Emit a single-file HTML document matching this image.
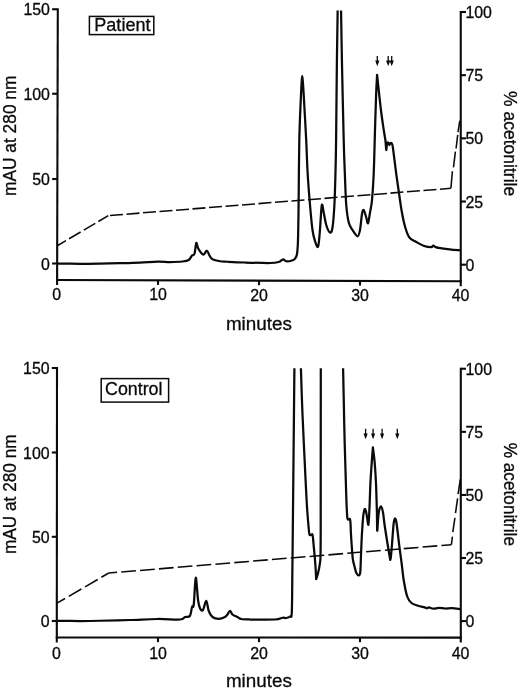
<!DOCTYPE html>
<html><head><meta charset="utf-8"><title>HPLC chromatograms</title>
<style>
html,body{margin:0;padding:0;background:#fff;}
body{width:520px;height:690px;position:relative;overflow:hidden;font-family:"Liberation Sans",Arial,sans-serif;}
</style></head><body>
<svg width="520" height="690" viewBox="0 0 520 690" style="display:block;position:absolute;left:0;top:0;filter:blur(0.3px)">
<rect width="520" height="690" fill="#fff"/>
<g font-family="'Liberation Sans', Arial, sans-serif" fill="#0a0a0a" stroke="#0a0a0a" stroke-width="0.3">
<g stroke="#0a0a0a" stroke-width="2.10" fill="none" stroke-linecap="butt">
<path d="M57.80 8.20 L57.10 285.00"/>
<path d="M460.75 10.95 V286.20"/>
<path d="M56.05 280.00 L461.80 281.30"/>
<path d="M52.10 9.25 H57.10"/>
<path d="M52.10 93.75 H57.10"/>
<path d="M52.10 179.00 H57.10"/>
<path d="M52.10 263.50 H57.10"/>
<path d="M460.75 12.00 H465.95"/>
<path d="M460.75 75.17 H465.95"/>
<path d="M460.75 138.35 H465.95"/>
<path d="M460.75 201.52 H465.95"/>
<path d="M460.75 264.70 H465.95"/>
<path d="M158.00 280.32 V284.92"/>
<path d="M259.00 280.65 V285.25"/>
<path d="M360.00 280.98 V285.58"/>
</g>
<text x="49.90" y="15.30" font-size="15.9" text-anchor="end">150</text>
<text x="49.90" y="99.80" font-size="15.9" text-anchor="end">100</text>
<text x="49.90" y="185.05" font-size="15.9" text-anchor="end">50</text>
<text x="49.90" y="269.55" font-size="15.9" text-anchor="end">0</text>
<text x="465.45" y="18.05" font-size="15.9">100</text>
<text x="465.45" y="81.22" font-size="15.9">75</text>
<text x="465.45" y="144.40" font-size="15.9">50</text>
<text x="465.45" y="207.57" font-size="15.9">25</text>
<text x="465.45" y="270.75" font-size="15.9">0</text>
<text x="56.60" y="300.10" font-size="15.9" text-anchor="middle">0</text>
<text x="158.00" y="300.42" font-size="15.9" text-anchor="middle">10</text>
<text x="259.00" y="300.75" font-size="15.9" text-anchor="middle">20</text>
<text x="360.00" y="301.08" font-size="15.9" text-anchor="middle">30</text>
<text x="460.55" y="301.40" font-size="15.9" text-anchor="middle">40</text>
<text x="258.9" y="329.70" font-size="19.2" text-anchor="middle" textLength="66" lengthAdjust="spacingAndGlyphs">minutes</text>
<text transform="translate(16.10 135.80) rotate(-90)" font-size="18.3" text-anchor="middle" textLength="120.4" lengthAdjust="spacingAndGlyphs">mAU at 280 nm</text>
<text transform="translate(503.90 143.65) rotate(90)" font-size="18.2" text-anchor="middle" textLength="105.1" lengthAdjust="spacingAndGlyphs">% acetonitrile</text>
<rect x="89.40" y="16.40" width="64.40" height="18.20" fill="#fff" stroke="#0a0a0a" stroke-width="1.5"/>
<text x="122.40" y="31.20" font-size="18.4" text-anchor="middle" textLength="56.2" lengthAdjust="spacingAndGlyphs">Patient</text>
<g stroke="#0a0a0a" stroke-width="2.10" fill="none" stroke-linecap="butt">
<path d="M57.00 366.95 L56.80 642.50"/>
<path d="M460.80 367.70 V642.50"/>
<path d="M55.75 637.50 L461.85 637.60"/>
<path d="M51.80 368.00 H56.80"/>
<path d="M51.80 452.50 H56.80"/>
<path d="M51.80 536.80 H56.80"/>
<path d="M51.80 621.00 H56.80"/>
<path d="M460.80 368.75 H466.00"/>
<path d="M460.80 431.84 H466.00"/>
<path d="M460.80 494.93 H466.00"/>
<path d="M460.80 558.01 H466.00"/>
<path d="M460.80 621.10 H466.00"/>
<path d="M158.00 637.53 V642.13"/>
<path d="M259.00 637.55 V642.15"/>
<path d="M360.00 637.58 V642.18"/>
</g>
<text x="49.60" y="374.05" font-size="15.9" text-anchor="end">150</text>
<text x="49.60" y="458.55" font-size="15.9" text-anchor="end">100</text>
<text x="49.60" y="542.85" font-size="15.9" text-anchor="end">50</text>
<text x="49.60" y="627.05" font-size="15.9" text-anchor="end">0</text>
<text x="465.50" y="374.80" font-size="15.9">100</text>
<text x="465.50" y="437.89" font-size="15.9">75</text>
<text x="465.50" y="500.98" font-size="15.9">50</text>
<text x="465.50" y="564.06" font-size="15.9">25</text>
<text x="465.50" y="627.15" font-size="15.9">0</text>
<text x="56.30" y="658.60" font-size="15.9" text-anchor="middle">0</text>
<text x="158.00" y="658.63" font-size="15.9" text-anchor="middle">10</text>
<text x="259.00" y="658.65" font-size="15.9" text-anchor="middle">20</text>
<text x="360.00" y="658.68" font-size="15.9" text-anchor="middle">30</text>
<text x="460.60" y="658.70" font-size="15.9" text-anchor="middle">40</text>
<text x="258.9" y="686.80" font-size="19.2" text-anchor="middle" textLength="66" lengthAdjust="spacingAndGlyphs">minutes</text>
<text transform="translate(15.80 494.20) rotate(-90)" font-size="18.3" text-anchor="middle" textLength="119.6" lengthAdjust="spacingAndGlyphs">mAU at 280 nm</text>
<text transform="translate(503.50 494.35) rotate(90)" font-size="18.2" text-anchor="middle" textLength="103.3" lengthAdjust="spacingAndGlyphs">% acetonitrile</text>
<rect x="101.20" y="378.60" width="67.40" height="23.50" fill="#fff" stroke="#0a0a0a" stroke-width="1.5"/>
<text x="133.75" y="395.00" font-size="18.4" text-anchor="middle" textLength="57.5" lengthAdjust="spacingAndGlyphs">Control</text>
<g stroke="#0a0a0a" fill="none" stroke-linejoin="round" stroke-linecap="butt">
<path stroke-width="2.25" d="M57.50 263.60 C61.25 263.63 72.92 263.80 80.00 263.80 C87.08 263.80 93.33 263.70 100.00 263.60 C106.67 263.50 113.33 263.37 120.00 263.20 C126.67 263.03 133.67 262.87 140.00 262.60 C146.33 262.33 153.00 261.70 158.00 261.60 C163.00 261.50 165.92 262.02 170.00 262.00 C174.08 261.98 179.38 261.83 182.50 261.50 C185.62 261.17 187.17 261.00 188.75 260.00 C190.33 259.00 191.04 256.54 192.00 255.50 C192.96 254.46 193.79 255.83 194.50 253.75 C195.21 251.67 195.67 243.96 196.25 243.00 C196.83 242.04 197.17 246.33 198.00 248.00 C198.83 249.67 200.29 251.92 201.25 253.00 C202.21 254.08 202.79 254.88 203.75 254.50 C204.71 254.12 206.04 250.58 207.00 250.75 C207.96 250.92 208.58 254.08 209.50 255.50 C210.42 256.92 210.75 258.29 212.50 259.25 C214.25 260.21 217.50 260.83 220.00 261.25 C222.50 261.67 223.33 261.54 227.50 261.75 C231.67 261.96 237.92 262.29 245.00 262.50 C252.08 262.71 264.38 263.08 270.00 263.00 C275.62 262.92 276.58 262.62 278.75 262.00 C280.92 261.38 281.75 259.43 283.00 259.30 C284.25 259.18 284.88 261.01 286.25 261.25 C287.62 261.49 289.79 261.17 291.25 260.75 C292.71 260.33 294.04 259.88 295.00 258.75 C295.96 257.62 296.50 257.12 297.00 254.00 C297.50 250.88 297.73 248.17 298.00 240.00 C298.27 231.83 298.38 221.67 298.60 205.00 C298.82 188.33 298.90 158.38 299.30 140.00 C299.70 121.62 300.58 104.75 301.00 94.75 C301.42 84.75 301.60 83.09 301.80 80.00 C302.00 76.91 302.05 76.20 302.20 76.20 C302.35 76.20 302.45 76.91 302.70 80.00 C302.95 83.09 303.12 84.75 303.70 94.75 C304.28 104.75 305.55 127.04 306.20 140.00 C306.85 152.96 306.97 161.67 307.60 172.50 C308.23 183.33 309.18 195.42 310.00 205.00 C310.82 214.58 311.67 224.00 312.50 230.00 C313.33 236.00 314.08 238.21 315.00 241.00 C315.92 243.79 317.20 248.25 318.00 246.75 C318.80 245.25 319.18 238.88 319.80 232.00 C320.43 225.12 321.12 208.83 321.75 205.50 C322.38 202.17 322.85 208.75 323.60 212.00 C324.35 215.25 325.18 221.58 326.25 225.00 C327.32 228.42 328.96 232.08 330.00 232.50 C331.04 232.92 331.77 232.08 332.50 227.50 C333.23 222.92 333.90 214.25 334.40 205.00 C334.90 195.75 335.22 182.83 335.50 172.00 C335.78 161.17 335.87 158.67 336.10 140.00 C336.33 121.33 336.64 81.58 336.90 60.00 C337.16 38.42 337.52 18.75 337.65 10.50"/>
<path stroke-width="2.25" d="M341.05 10.50 C341.19 18.75 341.46 38.42 341.90 60.00 C342.34 81.58 343.22 121.25 343.70 140.00 C344.18 158.75 344.38 161.67 344.80 172.50 C345.23 183.33 345.59 196.67 346.25 205.00 C346.91 213.33 347.71 218.33 348.75 222.50 C349.79 226.67 351.04 227.71 352.50 230.00 C353.96 232.29 356.25 236.25 357.50 236.25 C358.75 236.25 359.25 233.71 360.00 230.00 C360.75 226.29 361.38 217.33 362.00 214.00 C362.62 210.67 363.04 209.42 363.75 210.00 C364.46 210.58 365.54 215.29 366.25 217.50 C366.96 219.71 367.38 224.08 368.00 223.25 C368.62 222.42 369.33 216.38 370.00 212.50 C370.67 208.62 371.38 206.67 372.00 200.00 C372.62 193.33 373.25 184.17 373.75 172.50 C374.25 160.83 374.61 142.92 375.00 130.00 C375.39 117.08 375.75 104.20 376.10 95.00 C376.45 85.80 376.93 78.17 377.10 74.80 C377.33 77.00 377.81 81.72 378.50 88.00 C379.19 94.28 380.38 105.50 381.25 112.50 C382.12 119.50 383.04 125.25 383.75 130.00 C384.46 134.75 385.08 137.67 385.50 141.00 C385.92 144.33 386.00 149.54 386.25 150.00 C386.50 150.46 386.68 145.00 387.00 143.75 C387.32 142.50 387.82 142.29 388.20 142.50 C388.58 142.71 388.92 144.92 389.30 145.00 C389.68 145.08 390.00 143.08 390.50 143.00 C391.00 142.92 391.78 142.83 392.30 144.50 C392.82 146.17 392.93 148.03 393.60 153.00 C394.27 157.97 395.38 167.48 396.30 174.30 C397.22 181.12 398.20 187.73 399.10 193.90 C400.00 200.07 400.72 205.87 401.70 211.30 C402.68 216.73 403.73 222.15 405.00 226.50 C406.27 230.85 407.48 234.87 409.30 237.40 C411.12 239.93 413.53 240.32 415.90 241.70 C418.27 243.08 420.98 244.78 423.50 245.70 C426.02 246.62 429.37 247.20 431.00 247.20 C432.63 247.20 432.55 245.73 433.30 245.70 C434.05 245.67 434.60 246.65 435.50 247.00 C436.40 247.35 436.35 247.42 438.70 247.80 C441.05 248.18 446.05 248.87 449.60 249.30 C453.15 249.73 458.27 250.22 460.00 250.40"/>
<path stroke-width="1.55" stroke-dasharray="13.4 3.6" stroke-dashoffset="3.3" d="M57.3 245.75 L108.3 215.6"/>
<path stroke-width="1.55" stroke-dasharray="13 3.55" stroke-dashoffset="14.85" d="M108.3 215.6 L450.9 188.3"/>
<path stroke-width="1.55" d="M450.9 188.3 L452.4 171.3 M453.5 167.4 L455.4 151.7 M456.1 148.5 L457.7 134.8 M458 132.2 L459.8 120.8"/>
<path stroke-width="2.25" d="M57.50 620.90 C61.25 620.92 72.92 621.02 80.00 621.00 C87.08 620.98 91.67 620.92 100.00 620.75 C108.33 620.58 120.42 620.29 130.00 620.00 C139.58 619.71 149.17 619.08 157.50 619.00 C165.83 618.92 175.42 619.83 180.00 619.50 C184.58 619.17 183.33 617.62 185.00 617.00 C186.67 616.38 188.83 617.42 190.00 615.75 C191.17 614.08 191.38 608.88 192.00 607.00 C192.62 605.12 193.12 609.38 193.75 604.50 C194.38 599.62 195.04 578.58 195.75 577.75 C196.46 576.92 197.29 594.42 198.00 599.50 C198.71 604.58 199.17 606.50 200.00 608.25 C200.83 610.00 201.96 611.25 203.00 610.00 C204.04 608.75 205.29 600.58 206.25 600.75 C207.21 600.92 207.71 608.29 208.75 611.00 C209.79 613.71 210.83 615.71 212.50 617.00 C214.17 618.29 216.67 618.75 218.75 618.75 C220.83 618.75 223.54 617.71 225.00 617.00 C226.46 616.29 226.67 615.54 227.50 614.50 C228.33 613.46 229.17 610.75 230.00 610.75 C230.83 610.75 231.25 613.46 232.50 614.50 C233.75 615.54 236.04 616.25 237.50 617.00 C238.96 617.75 239.17 618.58 241.25 619.00 C243.33 619.42 244.38 619.42 250.00 619.50 C255.62 619.58 269.58 619.79 275.00 619.50 C280.42 619.21 280.67 618.00 282.50 617.75 C284.33 617.50 284.75 618.21 286.00 618.00 C287.25 617.79 289.03 617.50 290.00 616.50 C290.97 615.50 291.40 620.25 291.80 612.00 C292.20 603.75 292.23 580.67 292.40 567.00 C292.57 553.33 292.60 549.50 292.80 530.00 C293.00 510.50 293.33 476.95 293.60 450.00 C293.87 423.05 294.27 381.92 294.40 368.30"/>
<path stroke-width="2.25" d="M300.90 368.30 C301.12 374.75 301.70 394.22 302.20 407.00 C302.70 419.78 303.33 432.77 303.90 445.00 C304.47 457.23 305.05 469.57 305.60 480.40 C306.15 491.23 306.63 501.48 307.20 510.00 C307.77 518.52 308.60 527.35 309.00 531.50 C309.40 535.65 309.27 534.35 309.60 534.90 C309.93 535.45 310.55 534.88 311.00 534.80 C311.45 534.72 311.97 533.87 312.30 534.40 C312.63 534.93 312.78 536.27 313.00 538.00 C313.22 539.73 313.32 541.73 313.60 544.80 C313.88 547.87 314.37 552.53 314.70 556.40 C315.03 560.27 315.35 564.20 315.60 568.00 C315.85 571.80 316.10 577.33 316.20 579.20 C316.53 578.10 317.58 575.25 318.20 572.60 C318.82 569.95 319.52 566.00 319.90 563.30 C320.28 560.60 320.37 561.45 320.50 556.40 C320.63 551.35 320.67 540.73 320.70 533.00 C320.73 525.27 320.68 537.45 320.70 510.00 C320.72 482.55 320.78 391.92 320.80 368.30"/>
<path stroke-width="2.25" d="M343.10 368.30 C343.23 374.75 343.65 395.05 343.90 407.00 C344.15 418.95 344.28 427.77 344.60 440.00 C344.92 452.23 345.50 470.40 345.80 480.40 C346.10 490.40 346.17 493.93 346.40 500.00 C346.63 506.07 346.98 513.57 347.20 516.80 C347.42 520.03 347.43 518.97 347.70 519.40 C347.97 519.83 348.42 519.43 348.80 519.40 C349.18 519.37 349.72 518.60 350.00 519.20 C350.28 519.80 350.33 520.40 350.50 523.00 C350.67 525.60 350.72 529.93 351.00 534.80 C351.28 539.67 351.87 547.95 352.20 552.20 C352.53 556.45 352.58 557.80 353.00 560.30 C353.42 562.80 354.13 565.08 354.70 567.20 C355.27 569.32 355.72 571.65 356.40 573.00 C357.08 574.35 358.15 575.48 358.80 575.30 C359.45 575.12 359.92 575.75 360.30 571.90 C360.68 568.05 360.83 558.38 361.10 552.20 C361.37 546.02 361.57 540.60 361.90 534.80 C362.23 529.00 362.72 521.45 363.10 517.40 C363.48 513.35 363.87 511.92 364.20 510.50 C364.53 509.08 364.80 508.73 365.10 508.90 C365.40 509.07 365.70 510.28 366.00 511.50 C366.30 512.72 366.50 513.98 366.90 516.20 C367.30 518.42 368.00 525.57 368.40 524.80 C368.80 524.03 369.07 515.73 369.30 511.60 C369.53 507.47 369.62 504.68 369.80 500.00 C369.98 495.32 370.07 489.88 370.40 483.50 C370.73 477.12 371.38 467.72 371.80 461.70 C372.22 455.68 372.72 449.78 372.90 447.40 C373.18 449.78 374.08 455.68 374.60 461.70 C375.12 467.72 375.62 475.03 376.00 483.50 C376.38 491.97 376.70 504.65 376.90 512.50 C377.10 520.35 377.03 529.02 377.20 530.60 C377.37 532.18 377.60 525.27 377.90 522.00 C378.20 518.73 378.47 513.58 379.00 511.00 C379.53 508.42 380.43 506.25 381.10 506.50 C381.77 506.75 382.42 509.42 383.00 512.50 C383.58 515.58 383.83 519.70 384.60 525.00 C385.37 530.30 386.73 538.90 387.60 544.30 C388.47 549.70 389.33 554.82 389.80 557.40 C390.27 559.98 390.20 560.03 390.40 559.80 C390.60 559.57 390.73 558.58 391.00 556.00 C391.27 553.42 391.58 549.50 392.00 544.30 C392.42 539.10 393.10 528.85 393.50 524.80 C393.90 520.75 394.12 521.05 394.40 520.00 C394.68 518.95 394.92 518.42 395.20 518.50 C395.48 518.58 395.75 518.75 396.10 520.50 C396.45 522.25 396.80 525.03 397.30 529.00 C397.80 532.97 398.37 538.48 399.10 544.30 C399.83 550.12 400.90 557.73 401.70 563.90 C402.50 570.07 402.98 575.87 403.90 581.30 C404.82 586.73 405.93 592.88 407.20 596.50 C408.47 600.12 409.70 601.47 411.50 603.00 C413.30 604.53 415.82 604.97 418.00 605.70 C420.18 606.43 423.10 606.97 424.60 607.40 C426.10 607.83 426.28 608.30 427.00 608.30 C427.72 608.30 427.85 607.33 428.90 607.40 C429.95 607.47 431.62 608.62 433.30 608.70 C434.98 608.78 437.02 607.93 439.00 607.90 C440.98 607.87 443.03 608.45 445.20 608.50 C447.37 608.55 449.53 608.10 452.00 608.20 C454.47 608.30 458.67 608.95 460.00 609.10"/>
<path stroke-width="1.55" stroke-dasharray="14.6 4.3" stroke-dashoffset="5.3" d="M57 603.2 L108.75 573"/>
<path stroke-width="1.55" stroke-dasharray="14.7 4.2" stroke-dashoffset="6.36" d="M108.75 573 L451.4 544.7"/>
<path stroke-width="1.55" d="M451.4 544.7 L452.4 536.6 M452.8 532.2 L454.9 517.8 M455.5 513.1 L457.6 498.3 M458.1 494.2 L460.3 479.4"/>
</g>
<g stroke="none">
<path d="M377.30 56.00 L377.30 64.00" stroke="#0a0a0a" stroke-width="1.3" fill="none"/><path d="M375.20 60.60 L379.40 60.60 L377.30 66.30 Z" fill="#0a0a0a"/>
<path d="M388.20 56.00 L388.20 64.00" stroke="#0a0a0a" stroke-width="1.3" fill="none"/><path d="M386.10 60.60 L390.30 60.60 L388.20 66.30 Z" fill="#0a0a0a"/>
<path d="M391.70 56.00 L391.70 64.00" stroke="#0a0a0a" stroke-width="1.3" fill="none"/><path d="M389.60 60.60 L393.80 60.60 L391.70 66.30 Z" fill="#0a0a0a"/>
<path d="M365.60 428.80 L365.60 437.00" stroke="#0a0a0a" stroke-width="1.3" fill="none"/><path d="M363.50 433.60 L367.70 433.60 L365.60 439.30 Z" fill="#0a0a0a"/>
<path d="M373.10 428.80 L373.10 437.00" stroke="#0a0a0a" stroke-width="1.3" fill="none"/><path d="M371.00 433.60 L375.20 433.60 L373.10 439.30 Z" fill="#0a0a0a"/>
<path d="M382.10 428.80 L382.10 437.00" stroke="#0a0a0a" stroke-width="1.3" fill="none"/><path d="M380.00 433.60 L384.20 433.60 L382.10 439.30 Z" fill="#0a0a0a"/>
<path d="M397.30 428.80 L397.30 437.00" stroke="#0a0a0a" stroke-width="1.3" fill="none"/><path d="M395.20 433.60 L399.40 433.60 L397.30 439.30 Z" fill="#0a0a0a"/>
</g>
</g>
</svg>
</body></html>
